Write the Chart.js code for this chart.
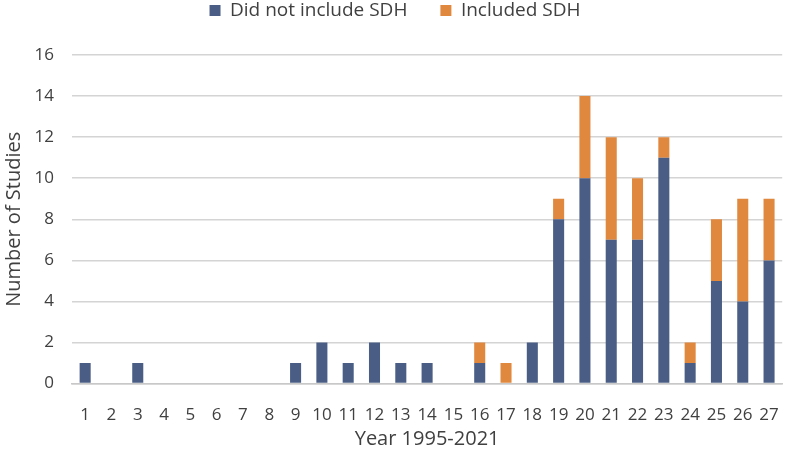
<!DOCTYPE html>
<html>
<head>
<meta charset="utf-8">
<script src="https://cdn.jsdelivr.net/npm/chart.js@4"></script>
<style>
html,body{margin:0;padding:0;background:#fff;}
#wrap{width:800px;height:456px;}
</style>
</head>
<body>
<div id="wrap"><canvas id="c" width="800" height="456"></canvas></div>
<script>
const categories = ["1","2","3","4","5","6","7","8","9","10","11","12","13","14","15","16","17","18","19","20","21","22","23","24","25","26","27"];
const didNotInclude = [1,0,1,0,0,0,0,0,1,2,1,2,1,1,0,1,0,2,8,10,7,7,11,1,5,4,6];
const includedSDH   = [0,0,0,0,0,0,0,0,0,0,0,0,0,0,0,1,1,0,1,4,5,3,1,1,3,5,3];
const yTicks = [0,2,4,6,8,10,12,14,16];

const FONT = "'Open Sans', 'Liberation Sans', sans-serif";
const TXT = '#404040';
const legendSpace = {
  id: 'legendSpace',
  beforeInit(chart) {
    const lg = chart.legend;
    if (lg) {
      const orig = lg.fit.bind(lg);
      lg.fit = function() { orig(); this.height += 25; };
    }
  }
};
new Chart(document.getElementById('c'), {
  type: 'bar',
  data: {
    labels: categories,
    datasets: [
      {label: 'Did not include SDH', data: didNotInclude, backgroundColor: '#4A5E85', barPercentage: 0.42, categoryPercentage: 1.0},
      {label: 'Included SDH', data: includedSDH, backgroundColor: '#E0883E', barPercentage: 0.42, categoryPercentage: 1.0}
    ]
  },
  plugins: [legendSpace],
  options: {
    responsive: false,
    animation: false,
    layout: {padding: {left: 2, right: 12, top: -32, bottom: 5}},
    plugins: {
      legend: {
        position: 'top',
        labels: {boxWidth: 11, boxHeight: 11, font: {family: FONT, size: 19}, color: TXT, padding: 33}
      },
      tooltip: {enabled: false}
    },
    scales: {
      x: {
        stacked: true,
        grid: {display: false, drawTicks: false},
        border: {color: '#c8c8c8', width: 1.5},
        ticks: {font: {family: FONT, size: 17}, color: TXT, padding: 21, maxRotation: 0, autoSkip: false},
        title: {display: true, text: 'Year 1995-2021', font: {family: FONT, size: 20}, color: TXT, padding: {top: -19, bottom: 0}}
      },
      y: {
        stacked: true,
        min: 0, max: 16,
        afterBuildTicks: (axis) => { axis.ticks = yTicks.map(v => ({value: v})); },
        afterFit: (axis) => { axis.width = 70; },
        grid: {color: '#d4d4d4', lineWidth: 1.5, drawTicks: false},
        border: {display: false},
        ticks: {font: {family: FONT, size: 17}, color: TXT, padding: 18},
        title: {display: true, text: 'Number of Studies', font: {family: FONT, size: 20}, color: TXT, padding: {top: 0, bottom: 0}}
      }
    }
  }
});
</script>
</body>
</html>
